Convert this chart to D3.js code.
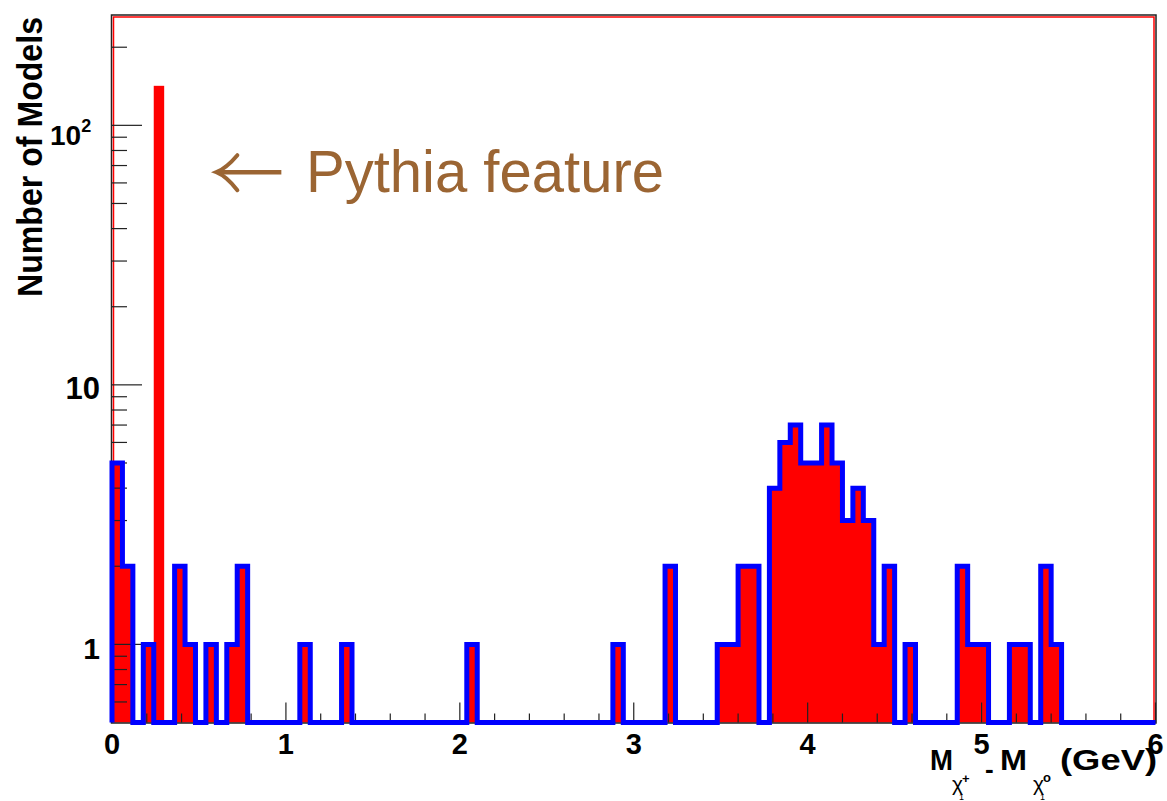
<!DOCTYPE html>
<html>
<head>
<meta charset="utf-8">
<script src="https://cdn.jsdelivr.net/npm/d3@7"></script>
<style>
  html, body { margin: 0; padding: 0; background: #fff; }
  svg { display: block; font-family: "Liberation Sans", Arial, Helvetica, sans-serif; }
</style>
</head>
<body>
<svg id="chart" width="1167" height="801"></svg>
<script>
// histogram: 100 bins of 0.06 between 0 and 6 GeV
const xMin = 0, xMax = 6, nBins = 100;
const counts = [
  5, 2, 0, 1, 0, 0, 2, 1, 0, 1,
  0, 1, 2, 0, 0, 0, 0, 0, 1, 0,
  0, 0, 1, 0, 0, 0, 0, 0, 0, 0,
  0, 0, 0, 0, 1, 0, 0, 0, 0, 0,
  0, 0, 0, 0, 0, 0, 0, 0, 1, 0,
  0, 0, 0, 2, 0, 0, 0, 0, 1, 1,
  2, 2, 0, 4, 6, 7, 5, 5, 7, 5,
  3, 4, 3, 1, 2, 0, 1, 0, 0, 0,
  0, 2, 1, 1, 0, 0, 1, 1, 0, 2,
  1, 0, 0, 0, 0, 0, 0, 0, 0, 0
];
// the separate "Pythia feature" spike
const pythiaBinLow = [0.24];
const pythiaCounts = [142];

const xTickLabels = ["0", "1", "2", "3", "4", "5", "6"];
const yMajorTicks = [1, 10, 100];
const yMinorTicks = [0.6, 0.7, 0.8, 0.9, 2, 3, 4, 5, 6, 7, 8, 9, 20, 30, 40, 50, 60, 70, 80, 90, 200];

const svg = d3.select("#chart");
const padL = 112, padR = 1155.5, padT = 15.5, padB = 722.5;
const binW = (xMax - xMin) / nBins;

const x = d3.scaleLinear().domain([xMin, xMax]).range([padL, padR]);
const yLo = 0.5;
const y = d3.scaleLog().domain([yLo, 265]).range([padB, padT]);
const yv = v => y(Math.max(v, yLo));

// pythia spike (behind the histogram)
svg.selectAll(".pythia")
   .data(pythiaBinLow)
   .enter().append("rect")
   .attr("class", "pythia")
   .attr("x", d => x(d))
   .attr("width", d => x(d + binW) - x(d))
   .attr("y", (d, i) => y(pythiaCounts[i]))
   .attr("height", (d, i) => padB - y(pythiaCounts[i]))
   .attr("fill", "#ff0000");

// step outline points
const pts = [[x(xMin), padB]];
counts.forEach((c, i) => {
  const x0 = xMin + i * binW, x1 = x0 + binW;
  pts.push([x(x0), yv(c)], [x(x1), yv(c)]);
});
pts.push([x(xMax), padB]);

svg.append("path")
   .attr("d", d3.line()(pts) + "Z")
   .attr("fill", "#ff0000")
   .attr("stroke", "none");

// frame
svg.append("rect")
   .attr("x", padL - 0.5).attr("y", padT - 0.5)
   .attr("width", padR - padL + 1).attr("height", padB - padT + 1)
   .attr("fill", "none").attr("stroke", "#222").attr("stroke-width", 1.5);
svg.append("rect")
   .attr("x", padL + 1.5).attr("y", padT + 1.5)
   .attr("width", padR - padL - 3).attr("height", padB - padT - 3)
   .attr("fill", "none").attr("stroke", "#ff0000").attr("stroke-width", 1.5);

// y ticks
svg.selectAll(".ymaj")
   .data(yMajorTicks).enter().append("line")
   .attr("x1", padL).attr("x2", padL + 30)
   .attr("y1", d => y(d)).attr("y2", d => y(d))
   .attr("stroke", "#222").attr("stroke-width", 1.2);
svg.selectAll(".ymin")
   .data(yMinorTicks).enter().append("line")
   .attr("x1", padL).attr("x2", padL + 15)
   .attr("y1", d => y(d)).attr("y2", d => y(d))
   .attr("stroke", "#222").attr("stroke-width", 1.2);

// x ticks
const xMinor = d3.range(0, 31).map(i => i * 0.2).filter(v => Math.abs(v - Math.round(v)) > 1e-6);
svg.selectAll(".xmaj")
   .data(xTickLabels).enter().append("line")
   .attr("x1", d => x(+d)).attr("x2", d => x(+d))
   .attr("y1", padB).attr("y2", padB - 20)
   .attr("stroke", "#222").attr("stroke-width", 1.2);
svg.selectAll(".xmin")
   .data(xMinor).enter().append("line")
   .attr("x1", d => x(d)).attr("x2", d => x(d))
   .attr("y1", padB).attr("y2", padB - 9)
   .attr("stroke", "#222").attr("stroke-width", 1.2);

// histogram outline
svg.append("path")
   .attr("d", d3.line()(pts))
   .attr("fill", "none")
   .attr("stroke", "#0000ff")
   .attr("stroke-width", 5)
   .attr("stroke-linejoin", "miter");

// x tick labels
svg.selectAll(".xlab")
   .data(xTickLabels).enter().append("text")
   .attr("x", d => x(+d)).attr("y", 754)
   .attr("text-anchor", "middle")
   .attr("font-size", 29).attr("font-weight", "bold")
   .text(d => d);

// y tick labels
svg.append("text").attr("x", 100).attr("y", 659)
   .attr("text-anchor", "end").attr("font-size", 30).attr("font-weight", "bold").text("1");
svg.append("text").attr("x", 100).attr("y", 399)
   .attr("text-anchor", "end").attr("font-size", 31).attr("font-weight", "bold").text("10");
const e2 = svg.append("text").attr("x", 50).attr("y", 145)
   .attr("font-size", 28).attr("font-weight", "bold");
e2.append("tspan").text("10");
e2.append("tspan").attr("font-size", 18).attr("dy", -13).text("2");

// y title
svg.append("text")
   .attr("transform", "translate(41.5,17) rotate(-90)")
   .attr("text-anchor", "end")
   .attr("font-size", 35).attr("font-weight", "bold")
   .attr("textLength", 280).attr("lengthAdjust", "spacingAndGlyphs")
   .text("Number of Models");

// x title: M_{chi1+} - M_{chi1o} (GeV)
const xt = svg.append("g").attr("font-weight", "bold");
xt.append("text").attr("x", 930).attr("y", 770).attr("font-size", 29)
  .attr("textLength", 23).attr("lengthAdjust", "spacingAndGlyphs").text("M");
xt.append("text").attr("x", 952).attr("y", 791).attr("font-size", 21).attr("font-weight", "normal").text("χ");
xt.append("text").attr("x", 962).attr("y", 783).attr("font-size", 13).text("+");
xt.append("text").attr("x", 959).attr("y", 800).attr("font-size", 9).attr("font-weight", "normal").text("1");
xt.append("text").attr("x", 985).attr("y", 778).attr("font-size", 26).text("-");
xt.append("text").attr("x", 1000).attr("y", 770).attr("font-size", 29)
  .attr("textLength", 27).attr("lengthAdjust", "spacingAndGlyphs").text("M");
xt.append("text").attr("x", 1033).attr("y", 791).attr("font-size", 21).attr("font-weight", "normal").text("χ");
xt.append("text").attr("x", 1043).attr("y", 782).attr("font-size", 13).text("o");
xt.append("text").attr("x", 1040).attr("y", 800).attr("font-size", 9).attr("font-weight", "normal").text("1");
xt.append("text").attr("x", 1060).attr("y", 770).attr("font-size", 30)
  .attr("textLength", 97).attr("lengthAdjust", "spacingAndGlyphs").text("(GeV)");

// annotation
const brown = "#9b6533";
const tip = [x(0.6), y(66)];
svg.append("path")
   .attr("d", `M${tip[0] + 2},${tip[1]} L${tip[0] + 65},${tip[1]}`)
   .attr("stroke", brown).attr("stroke-width", 4.5).attr("fill", "none");
svg.append("path")
   .attr("d", `M${tip[0] + 21},${tip[1] - 17} Q${tip[0] + 10},${tip[1] - 4} ${tip[0]},${tip[1]} Q${tip[0] + 10},${tip[1] + 4} ${tip[0] + 21},${tip[1] + 18}`)
   .attr("stroke", brown).attr("stroke-width", 4).attr("fill", "none")
   .attr("stroke-linecap", "round");
svg.append("text")
   .attr("x", 306).attr("y", 191.5)
   .attr("font-size", 60).attr("fill", brown)
   .attr("textLength", 358).attr("lengthAdjust", "spacingAndGlyphs")
   .text("Pythia feature");
</script>
</body>
</html>
